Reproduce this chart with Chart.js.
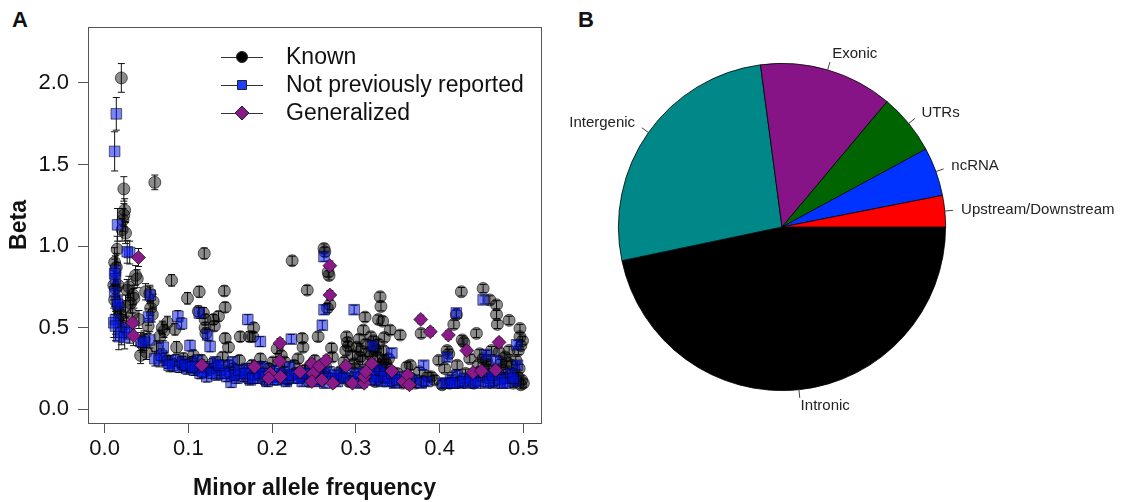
<!DOCTYPE html>
<html>
<head>
<meta charset="utf-8">
<script src="https://cdn.jsdelivr.net/npm/chart.js@4.4.0/dist/chart.umd.min.js"></script>
<style>
  body { margin: 0; background: #fff; width: 1125px; height: 502px; position: relative; overflow: hidden;
         font-family: "Liberation Sans", Arial, sans-serif; }
  canvas { position: absolute; top: 0; }
  #chartA { left: 0; }
  #chartB { left: 560px; }
  .tag { position: absolute; top: 9px; font-weight: bold; font-size: 22px; line-height: 22px; color: #111; }
</style>
</head>
<body>
<div class="tag" style="left:12px">A</div>
<div class="tag" style="left:578px">B</div>
<canvas id="chartA" width="560" height="502"></canvas>
<canvas id="chartB" width="565" height="502"></canvas>
<script>
// ---- panel A data: [minor allele frequency, beta, error half-width] ----
var known = [
  [0.020,2.03,0.088],[0.060,1.39,0.045],[0.023,1.35,0.075],[0.024,1.22,0.07],
  [0.023,1.19,0.07],[0.022,1.16,0.07],[0.025,1.08,0.065],[0.021,1.10,0.07],
  [0.015,0.98,0.08],[0.012,0.90,0.09],[0.014,0.87,0.085],[0.011,0.76,0.09],
  [0.013,0.74,0.09],[0.016,0.76,0.08],[0.012,0.67,0.09],[0.018,0.62,0.08],
  [0.020,0.55,0.075],[0.022,0.51,0.07],[0.019,0.58,0.075],[0.025,0.63,0.07],
  [0.027,0.73,0.065],[0.029,0.75,0.065],[0.031,0.65,0.06],[0.035,0.68,0.06],
  [0.034,0.70,0.06],[0.037,0.82,0.06],[0.039,0.80,0.055],[0.033,0.58,0.06],
  [0.041,0.55,0.055],[0.049,0.72,0.05],[0.054,0.71,0.05],[0.058,0.66,0.045],
  [0.055,0.62,0.045],[0.057,0.58,0.045],[0.052,0.51,0.045],[0.045,0.40,0.05],
  [0.043,0.33,0.05],[0.050,0.35,0.045],[0.047,0.43,0.05],[0.062,0.38,0.04],
  [0.066,0.445,0.04],[0.069,0.50,0.04],[0.071,0.48,0.04],[0.075,0.53,0.04],
  [0.080,0.79,0.035],[0.084,0.49,0.035],[0.086,0.38,0.035],[0.099,0.68,0.035],
  [0.113,0.72,0.033],[0.119,0.955,0.033],[0.112,0.60,0.033],[0.118,0.59,0.033],
  [0.120,0.55,0.033],[0.120,0.50,0.033],[0.121,0.465,0.033],[0.130,0.55,0.03],
  [0.131,0.51,0.03],[0.136,0.57,0.03],[0.143,0.725,0.03],[0.144,0.625,0.03],
  [0.144,0.435,0.03],[0.148,0.38,0.03],[0.162,0.445,0.03],[0.173,0.445,0.03],
  [0.177,0.445,0.03],[0.178,0.50,0.03],[0.206,0.37,0.028],[0.224,0.91,0.028],
  [0.236,0.435,0.028],[0.237,0.38,0.028],[0.242,0.73,0.028],[0.255,0.445,0.028],
  [0.262,0.985,0.028],[0.263,0.965,0.028],[0.267,0.84,0.028],[0.268,0.82,0.028],
  [0.269,0.64,0.028],[0.266,0.62,0.028],[0.271,0.375,0.028],[0.289,0.445,0.028],
  [0.291,0.385,0.028],[0.290,0.41,0.028],[0.288,0.36,0.028],[0.309,0.485,0.027],
  [0.311,0.565,0.027],[0.318,0.445,0.027],[0.322,0.38,0.027],[0.305,0.32,0.027],
  [0.329,0.69,0.027],[0.330,0.63,0.027],[0.327,0.55,0.027],[0.332,0.54,0.027],
  [0.341,0.485,0.027],[0.353,0.455,0.027],[0.378,0.465,0.026],[0.365,0.27,0.026],
  [0.390,0.20,0.026],[0.403,0.15,0.026],[0.409,0.36,0.026],[0.411,0.34,0.026],
  [0.399,0.30,0.026],[0.417,0.52,0.026],[0.420,0.58,0.026],[0.426,0.72,0.026],
  [0.427,0.425,0.026],[0.429,0.41,0.026],[0.444,0.465,0.025],[0.452,0.74,0.025],
  [0.460,0.67,0.025],[0.468,0.64,0.025],[0.468,0.58,0.025],[0.469,0.52,0.025],
  [0.483,0.545,0.025],[0.496,0.495,0.025],[0.496,0.445,0.025],[0.497,0.39,0.025],
  [0.488,0.16,0.025],[0.500,0.16,0.025],[0.497,0.15,0.025],[0.490,0.18,0.025],
  [0.072,0.31,0.04],[0.079,0.29,0.04],[0.091,0.28,0.035],[0.094,0.31,0.035],
  [0.101,0.26,0.035],[0.106,0.33,0.033],[0.109,0.25,0.033],[0.116,0.30,0.033],
  [0.124,0.24,0.033],[0.129,0.28,0.03],[0.137,0.22,0.03],[0.141,0.32,0.03],
  [0.149,0.27,0.03],[0.156,0.21,0.03],[0.161,0.30,0.03],[0.167,0.24,0.03],
  [0.171,0.19,0.03],[0.176,0.27,0.03],[0.182,0.22,0.03],[0.186,0.31,0.03],
  [0.191,0.18,0.03],[0.196,0.25,0.03],[0.201,0.29,0.028],[0.204,0.20,0.028],
  [0.211,0.33,0.028],[0.214,0.23,0.028],[0.219,0.18,0.028],[0.226,0.27,0.028],
  [0.231,0.31,0.028],[0.234,0.20,0.028],[0.239,0.24,0.028],[0.244,0.17,0.028],
  [0.251,0.30,0.028],[0.254,0.22,0.028],[0.259,0.19,0.028],[0.264,0.26,0.028],
  [0.272,0.32,0.028],[0.276,0.18,0.028],[0.281,0.23,0.028],[0.286,0.29,0.028],
  [0.292,0.17,0.028],[0.296,0.33,0.028],[0.301,0.38,0.027],[0.299,0.25,0.027],
  [0.304,0.43,0.027],[0.308,0.30,0.027],[0.313,0.20,0.027],[0.316,0.35,0.027],
  [0.319,0.27,0.027],[0.321,0.42,0.027],[0.323,0.17,0.027],[0.326,0.32,0.027],
  [0.328,0.23,0.027],[0.331,0.28,0.027],[0.333,0.36,0.027],[0.335,0.19,0.027],
  [0.337,0.25,0.027],[0.339,0.31,0.027],[0.344,0.17,0.027],[0.349,0.22,0.027],
  [0.356,0.16,0.027],[0.361,0.26,0.026],[0.366,0.19,0.026],[0.371,0.16,0.026],
  [0.376,0.23,0.026],[0.381,0.17,0.026],[0.386,0.20,0.026],[0.394,0.18,0.026],
  [0.406,0.25,0.026],[0.412,0.16,0.026],[0.416,0.20,0.026],[0.421,0.27,0.026],
  [0.424,0.17,0.026],[0.431,0.22,0.026],[0.436,0.31,0.025],[0.441,0.16,0.025],
  [0.446,0.27,0.025],[0.448,0.34,0.025],[0.451,0.20,0.025],[0.456,0.30,0.025],
  [0.459,0.24,0.025],[0.464,0.17,0.025],[0.471,0.35,0.025],[0.473,0.28,0.025],
  [0.476,0.19,0.025],[0.478,0.32,0.025],[0.481,0.22,0.025],[0.483,0.36,0.025],
  [0.486,0.27,0.025],[0.491,0.30,0.025],[0.493,0.20,0.025],[0.495,0.25,0.025],
  [0.498,0.18,0.025],[0.494,0.36,0.025],[0.499,0.42,0.025],
  [0.318,0.33,0.027],[0.324,0.36,0.027],[0.327,0.40,0.027],[0.334,0.44,0.027],
  [0.312,0.40,0.027],[0.306,0.36,0.027],[0.336,0.28,0.027],[0.329,0.26,0.027],
  [0.331,0.22,0.027],[0.327,0.19,0.027],[0.334,0.30,0.027],[0.186,0.26,0.03],
  [0.215,0.29,0.028],[0.228,0.22,0.028],[0.246,0.27,0.028],[0.262,0.22,0.028],
  [0.283,0.20,0.028],[0.298,0.28,0.027],[0.154,0.25,0.03],[0.133,0.26,0.03],
  [0.105,0.29,0.033],[0.095,0.27,0.035],[0.445,0.22,0.025],[0.458,0.27,0.025],
  [0.466,0.22,0.025],[0.474,0.25,0.025],[0.487,0.22,0.025],[0.480,0.29,0.025],
  [0.462,0.36,0.025],[0.452,0.31,0.025]
];
var novel = [
  [0.014,1.81,0.10],[0.012,1.58,0.12],[0.0155,1.13,0.10],[0.030,0.96,0.07],
  [0.027,0.965,0.07],[0.013,0.85,0.09],[0.013,0.80,0.09],[0.012,0.83,0.09],
  [0.012,0.72,0.09],[0.015,0.66,0.085],[0.016,0.64,0.085],[0.013,0.55,0.09],
  [0.011,0.53,0.09],[0.013,0.51,0.09],[0.017,0.445,0.08],[0.020,0.47,0.075],
  [0.026,0.50,0.07],[0.024,0.44,0.07],[0.030,0.47,0.065],[0.0545,0.70,0.05],
  [0.0525,0.565,0.05],[0.054,0.425,0.05],[0.043,0.415,0.055],[0.047,0.41,0.05],
  [0.060,0.31,0.045],[0.065,0.30,0.04],[0.070,0.38,0.04],[0.068,0.33,0.04],
  [0.0875,0.57,0.035],[0.092,0.525,0.035],[0.113,0.59,0.033],[0.123,0.455,0.033],
  [0.126,0.385,0.033],[0.102,0.39,0.033],[0.171,0.55,0.03],[0.186,0.415,0.03],
  [0.223,0.43,0.028],[0.151,0.165,0.03],[0.262,0.935,0.028],[0.262,0.61,0.028],
  [0.260,0.515,0.028],[0.298,0.61,0.027],[0.320,0.39,0.027],[0.343,0.345,0.027],
  [0.381,0.27,0.026],[0.420,0.59,0.026],[0.452,0.67,0.025],[0.409,0.32,0.026],
  [0.456,0.335,0.025],[0.492,0.395,0.025],[0.493,0.27,0.025],[0.467,0.30,0.025],
  [0.075,0.29,0.04],[0.081,0.27,0.04],[0.085,0.30,0.035],[0.089,0.26,0.035],
  [0.093,0.29,0.035],[0.098,0.25,0.035],[0.103,0.28,0.033],[0.107,0.24,0.033],
  [0.111,0.30,0.033],[0.114,0.22,0.033],[0.119,0.26,0.033],[0.122,0.20,0.033],
  [0.127,0.25,0.03],[0.132,0.29,0.03],[0.134,0.21,0.03],[0.139,0.24,0.03],
  [0.142,0.27,0.03],[0.146,0.20,0.03],[0.150,0.23,0.03],[0.153,0.29,0.03],
  [0.158,0.19,0.03],[0.163,0.22,0.03],[0.166,0.20,0.03],[0.170,0.25,0.03],
  [0.174,0.18,0.03],[0.179,0.21,0.03],[0.183,0.19,0.03],[0.188,0.26,0.03],
  [0.190,0.22,0.03],[0.194,0.17,0.03],[0.199,0.20,0.028],[0.203,0.24,0.028],
  [0.207,0.18,0.028],[0.212,0.21,0.028],[0.217,0.17,0.028],[0.221,0.26,0.028],
  [0.225,0.19,0.028],[0.230,0.22,0.028],[0.236,0.17,0.028],[0.241,0.20,0.028],
  [0.246,0.24,0.028],[0.252,0.18,0.028],[0.257,0.21,0.028],[0.263,0.16,0.028],
  [0.268,0.23,0.028],[0.273,0.19,0.028],[0.278,0.17,0.028],[0.283,0.22,0.028],
  [0.289,0.25,0.028],[0.294,0.18,0.027],[0.300,0.20,0.027],[0.305,0.16,0.027],
  [0.310,0.23,0.027],[0.316,0.18,0.027],[0.321,0.26,0.027],[0.326,0.20,0.027],
  [0.331,0.17,0.027],[0.336,0.22,0.027],[0.340,0.19,0.027],[0.346,0.16,0.027],
  [0.352,0.20,0.027],[0.358,0.17,0.026],[0.370,0.18,0.026],[0.378,0.16,0.026],
  [0.385,0.17,0.026],[0.404,0.16,0.026],[0.408,0.16,0.026],[0.413,0.18,0.026],
  [0.418,0.16,0.026],[0.421,0.21,0.026],[0.425,0.16,0.026],[0.430,0.19,0.026],
  [0.434,0.16,0.025],[0.440,0.20,0.025],[0.446,0.17,0.025],[0.450,0.23,0.025],
  [0.455,0.16,0.025],[0.460,0.19,0.025],[0.465,0.16,0.025],[0.470,0.21,0.025],
  [0.475,0.16,0.025],[0.480,0.19,0.025],[0.485,0.22,0.025],[0.490,0.17,0.025],
  [0.077,0.27,0.04],[0.096,0.27,0.035],[0.105,0.26,0.033],[0.117,0.23,0.033],
  [0.128,0.22,0.03],[0.136,0.27,0.03],[0.144,0.22,0.03],[0.155,0.21,0.03],
  [0.160,0.24,0.03],[0.168,0.22,0.03],[0.177,0.19,0.03],[0.185,0.22,0.03],
  [0.192,0.20,0.03],[0.201,0.18,0.028],[0.209,0.22,0.028],[0.215,0.19,0.028],
  [0.223,0.21,0.028],[0.232,0.19,0.028],[0.238,0.22,0.028],[0.248,0.19,0.028],
  [0.255,0.17,0.028],[0.266,0.19,0.028],[0.276,0.21,0.028],[0.286,0.19,0.028],
  [0.297,0.17,0.027],[0.303,0.22,0.027],[0.313,0.20,0.027],[0.318,0.22,0.027],
  [0.323,0.18,0.027],[0.329,0.24,0.027],[0.334,0.20,0.027],[0.338,0.17,0.027],
  [0.343,0.22,0.027],[0.349,0.18,0.027],[0.415,0.16,0.026],[0.428,0.17,0.026],
  [0.437,0.18,0.025],[0.443,0.16,0.025],[0.458,0.17,0.025],[0.463,0.21,0.025],
  [0.472,0.18,0.025],[0.478,0.16,0.025],[0.488,0.19,0.025]
];
var generalized = [
  [0.0405,0.93,0.055],[0.0335,0.53,0.06],[0.0345,0.45,0.06],[0.116,0.27,0.033],
  [0.179,0.26,0.03],[0.2095,0.405,0.028],[0.209,0.295,0.028],[0.198,0.22,0.028],
  [0.196,0.19,0.028],[0.210,0.20,0.028],[0.2335,0.23,0.028],[0.2475,0.28,0.028],
  [0.249,0.22,0.028],[0.2475,0.17,0.028],[0.2565,0.265,0.028],[0.2595,0.18,0.028],
  [0.2645,0.30,0.028],[0.2725,0.16,0.028],[0.269,0.88,0.028],[0.269,0.70,0.028],
  [0.288,0.265,0.027],[0.296,0.16,0.027],[0.310,0.16,0.027],[0.310,0.20,0.027],
  [0.312,0.23,0.027],[0.319,0.28,0.027],[0.343,0.235,0.027],[0.357,0.17,0.026],
  [0.362,0.21,0.026],[0.364,0.15,0.026],[0.3775,0.55,0.026],[0.389,0.475,0.026],
  [0.4105,0.455,0.026],[0.4325,0.36,0.026],[0.471,0.41,0.025],[0.440,0.225,0.025],
  [0.450,0.235,0.025],[0.467,0.24,0.025]
];
var xTicks = [0, 0.1, 0.2, 0.3, 0.4, 0.5];
var yTicks = [0, 0.5, 1, 1.5, 2];
var seriesNames = ['Known', 'Not previously reported', 'Generalized'];

// ---- panel B data (share of variants, %) ----
var regionLabels = ['Intronic', 'Intergenic', 'Exonic', 'UTRs', 'ncRNA', 'Upstream/Downstream'];
var regionShare = [46.7, 26.2, 13.2, 6.0, 4.8, 3.1];
var regionColors = ['#000000', '#008787', '#861487', '#006400', '#0033ff', '#ff0000'];

Chart.defaults.font.family = '"Liberation Sans", Arial, sans-serif';
Chart.defaults.color = '#111';

function toPts(arr) {
  return arr.map(function(d) { return { x: d[0], y: d[1], e: d[2] }; });
}

var errorBars = {
  id: 'errorBars',
  beforeDatasetsDraw: function(chart) {
    var ctx = chart.ctx, xs = chart.scales.x, ys = chart.scales.y;
    ctx.save();
    ctx.strokeStyle = '#111';
    ctx.lineWidth = 1;
    chart.data.datasets.forEach(function(ds) {
      ds.data.forEach(function(d) {
        var px = xs.getPixelForValue(d.x);
        var lo = ys.getPixelForValue(d.y - d.e), hi = ys.getPixelForValue(d.y + d.e);
        ctx.beginPath();
        ctx.moveTo(px, lo); ctx.lineTo(px, hi);
        ctx.moveTo(px - 3.5, lo); ctx.lineTo(px + 3.5, lo);
        ctx.moveTo(px - 3.5, hi); ctx.lineTo(px + 3.5, hi);
        ctx.stroke();
      });
    });
    ctx.restore();
  }
};

var boxAndLegend = {
  id: 'boxAndLegend',
  afterDraw: function(chart) {
    var ctx = chart.ctx, a = chart.chartArea;
    ctx.save();
    ctx.strokeStyle = '#555';
    ctx.lineWidth = 1;
    ctx.strokeRect(Math.round(a.left) + 0.5, Math.round(a.top) + 0.5,
                   Math.round(a.right - a.left), Math.round(a.bottom - a.top));
    // R style legend: line - marker - line, then label
    var fills = ['#000000', '#1f3cff', '#8b1a89'];
    seriesNames.forEach(function(name, i) {
      var y = 57 + i * 28, mx = 242;
      ctx.strokeStyle = '#333';
      ctx.beginPath(); ctx.moveTo(221, y + 0.5); ctx.lineTo(263, y + 0.5); ctx.stroke();
      ctx.fillStyle = fills[i];
      ctx.strokeStyle = '#222';
      ctx.beginPath();
      if (i === 0) ctx.arc(mx, y, 5.5, 0, Math.PI * 2);
      else if (i === 1) ctx.rect(mx - 4.5, y - 4.5, 9, 9);
      else { ctx.moveTo(mx, y - 7); ctx.lineTo(mx + 7, y); ctx.lineTo(mx, y + 7); ctx.lineTo(mx - 7, y); ctx.closePath(); }
      ctx.fill(); ctx.stroke();
      ctx.fillStyle = '#111';
      ctx.font = '23px "Liberation Sans", Arial, sans-serif';
      ctx.textAlign = 'left';
      ctx.textBaseline = 'middle';
      ctx.fillText(name, 286, y + 1);
    });
    ctx.restore();
  }
};

new Chart(document.getElementById('chartA'), {
  type: 'scatter',
  data: {
    datasets: [
      { label: seriesNames[0], data: toPts(known), order: 3, pointStyle: 'circle', pointRadius: 6,
        backgroundColor: 'rgba(0,0,0,0.45)', borderColor: 'rgba(0,0,0,0.6)', borderWidth: 1 },
      { label: seriesNames[1], data: toPts(novel), order: 2, pointStyle: 'rect', pointRadius: 7.5,
        backgroundColor: 'rgba(0,20,235,0.52)', borderColor: 'rgba(0,0,0,0.55)', borderWidth: 1 },
      { label: seriesNames[2], data: toPts(generalized), order: 1, pointStyle: 'rectRot', pointRadius: 7,
        backgroundColor: '#8b1a89', borderColor: 'rgba(0,0,0,0.6)', borderWidth: 1 }
    ]
  },
  options: {
    responsive: false,
    animation: false,
    layout: { padding: { left: 0, right: 19, top: 27, bottom: 0 } },
    plugins: { legend: { display: false }, tooltip: { enabled: false } },
    scales: {
      x: {
        type: 'linear', min: -0.0198, max: 0.5211,
        afterBuildTicks: function(s) { s.ticks = xTicks.map(function(v) { return { value: v }; }); },
        afterFit: function(s) { s.height = 79; },
        ticks: { font: { size: 22 }, padding: 3, maxRotation: 0,
                 callback: function(v) { return Number(v).toFixed(1); } },
        grid: { drawOnChartArea: false, drawTicks: true, tickLength: 10, color: '#555' },
        border: { display: true, color: '#555' },
        title: { display: true, text: 'Minor allele frequency', font: { size: 23, weight: 'bold' },
                 padding: { top: 0, bottom: 0 } }
      },
      y: {
        type: 'linear', min: -0.084, max: 2.342,
        afterBuildTicks: function(s) { s.ticks = yTicks.map(function(v) { return { value: v }; }); },
        afterFit: function(s) { s.width = 88; },
        ticks: { font: { size: 22 }, padding: 9,
                 callback: function(v) { return Number(v).toFixed(1); } },
        grid: { drawOnChartArea: false, drawTicks: true, tickLength: 10, color: '#555' },
        border: { display: true, color: '#555' },
        title: { display: true, text: 'Beta', font: { size: 23, weight: 'bold' },
                 padding: { top: 6, bottom: 0 } }
      }
    }
  },
  plugins: [errorBars, boxAndLegend]
});

// pie labels the way R's pie() places them
var pieLabels = {
  id: 'pieLabels',
  afterDatasetsDraw: function(chart) {
    var ctx = chart.ctx;
    var meta = chart.getDatasetMeta(0);
    ctx.save();
    ctx.font = '15px "Liberation Sans", Arial, sans-serif';
    ctx.textBaseline = 'middle';
    meta.data.forEach(function(arc, i) {
      var mid = (arc.startAngle + arc.endAngle) / 2;
      var c = Math.cos(mid), s = Math.sin(mid), r = arc.outerRadius;
      ctx.strokeStyle = '#444';
      ctx.lineWidth = 1;
      ctx.beginPath();
      ctx.moveTo(arc.x + r * c, arc.y + r * s);
      ctx.lineTo(arc.x + 1.05 * r * c, arc.y + 1.05 * r * s);
      ctx.stroke();
      ctx.fillStyle = '#222';
      ctx.textAlign = c >= 0 ? 'left' : 'right';
      ctx.fillText(chart.data.labels[i], arc.x + 1.1 * r * c, arc.y + 1.1 * r * s);
    });
    ctx.restore();
  }
};

new Chart(document.getElementById('chartB'), {
  type: 'pie',
  data: {
    labels: regionLabels,
    datasets: [{ data: regionShare, backgroundColor: regionColors, borderColor: '#000', borderWidth: 0.8 }]
  },
  options: {
    responsive: false,
    animation: false,
    rotation: 90,
    layout: { padding: { left: 58, top: 63, right: 179, bottom: 111 } },
    plugins: { legend: { display: false }, tooltip: { enabled: false } }
  },
  plugins: [pieLabels]
});
</script>
</body>
</html>
